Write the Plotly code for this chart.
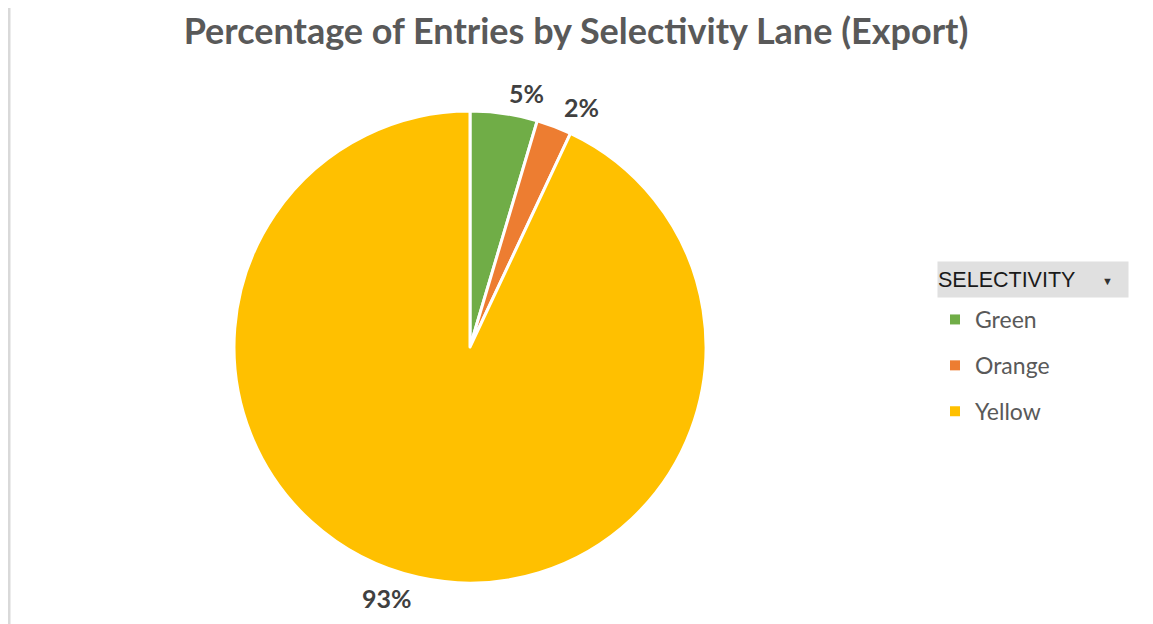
import math
import plotly.graph_objects as go

categories = ["Green", "Orange", "Yellow"]
shares = [4.6, 2.4, 93.0]
colors = ["#70ad47", "#ed7d31", "#ffc000"]
title_text = "Percentage of Entries by Selectivity Lane (Export)"
legend_title = "SELECTIVITY"

# page has an 8px body margin; work in screen pixels and convert
OFF = 8
W, H = 1145, 616
def px(x): return (x - OFF) / W
def py(y): return 1 - (y - OFF) / H

CX, CY, R = 470, 347, 236  # pie centre / radius in screen pixels

fig = go.Figure()
fig.add_trace(go.Pie(
    labels=categories, values=shares, sort=False, direction="clockwise", rotation=0,
    marker=dict(colors=colors, line=dict(color="white", width=3)),
    textinfo="none",
    domain=dict(x=[px(CX - R), px(CX + R)], y=[py(CY + R), py(CY - R)]),
    showlegend=False, hoverinfo="label+percent",
))

for cat, col in zip(categories, colors):
    fig.add_trace(go.Scatter(
        x=[None], y=[None], mode="markers", name=cat, legendgroup=cat,
        marker=dict(symbol="square", size=10, color=col),
    ))

# percentage labels placed outside each slice's mid-angle
annotations = []
total = sum(shares)
cum = 0.0
for v in shares:
    mid = (cum + v / 2) / total * 2 * math.pi
    cum += v
    sx, cy = math.sin(mid), math.cos(mid)
    rl = R + 21
    lx, ly = CX + rl * sx, CY - rl * cy
    xa = "left" if sx > 0.05 else ("right" if sx < -0.05 else "center")
    annotations.append(dict(
        text="<b>%d%%</b>" % round(v / total * 100), xref="paper", yref="paper",
        x=px(lx), y=py(ly), xanchor=xa, yanchor="middle", showarrow=False,
        font=dict(family="Lato", size=25, color="#404040")))

annotations.append(dict(
    text=legend_title, xref="paper", yref="paper", x=px(937), y=py(279.5),
    xanchor="left", yanchor="middle", showarrow=False, width=190, height=35,
    align="left", bgcolor="#e0e0e0", borderpad=0,
    font=dict(family="Liberation Sans", size=21.5, color="#1a1a1a")))
annotations.append(dict(
    text="▼", xref="paper", yref="paper", x=px(1107), y=py(281), showarrow=False,
    font=dict(size=11, color="#333333"), xanchor="center", yanchor="middle"))

fig.update_layout(
    width=W, height=H, paper_bgcolor="white", plot_bgcolor="white",
    margin=dict(l=0, r=0, t=0, b=0),
    xaxis=dict(visible=False), yaxis=dict(visible=False),
    title=dict(text="<b>" + title_text + "</b>", x=px(576), xanchor="center", xref="paper",
               y=py(31), yanchor="middle", yref="container",
               font=dict(family="Lato", size=36, color="#595959")),
    legend=dict(x=px(935), xanchor="left", y=py(298), yanchor="top",
                bgcolor="rgba(0,0,0,0)", tracegroupgap=13, itemclick=False,
                font=dict(family="Lato", size=23, color="#595959")),
    shapes=[
        dict(type="line", xref="paper", yref="paper", x0=px(9), x1=px(9), y0=0, y1=1,
             line=dict(color="#d9d9d9", width=3)),
        dict(type="line", xref="paper", yref="paper", x0=px(1148), x1=px(1148), y0=0, y1=1,
             line=dict(color="#d9d9d9", width=3)),
    ],
    annotations=annotations,
)

fig.write_html("out.html")
